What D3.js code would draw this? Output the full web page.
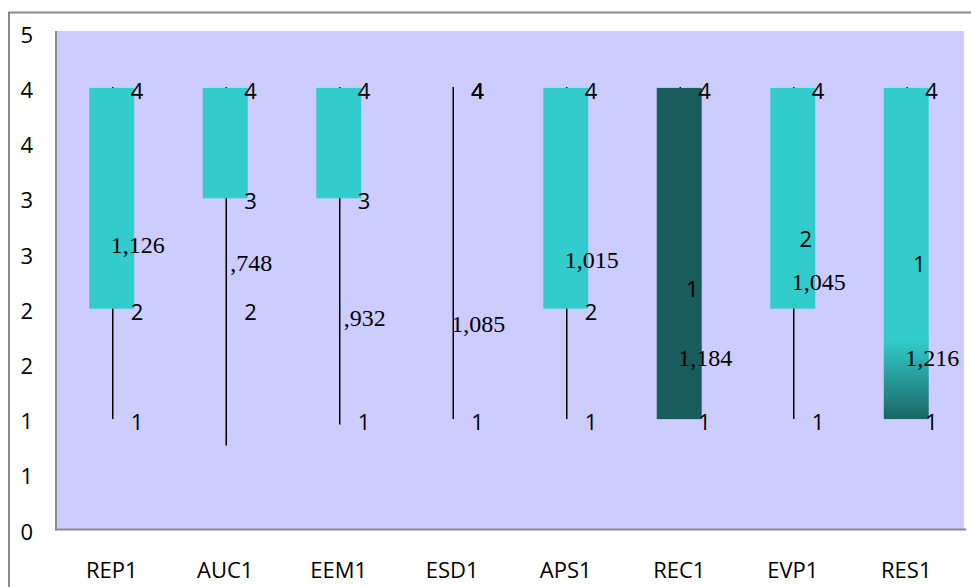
<!DOCTYPE html>
<html>
<head>
<meta charset="utf-8">
<script src="https://cdn.jsdelivr.net/npm/d3@7"></script>
<style>
  html, body { margin: 0; padding: 0; background: #fff; }
  svg { display: block; }
  .sans { font-family: "Open Sans", "Noto Sans", sans-serif; font-size: 22px; fill: #000; }
  .serif { font-family: "Liberation Serif", "DejaVu Serif", serif; font-size: 24px; fill: #000; }
</style>
</head>
<body>
<svg id="chart" width="971" height="587"></svg>
<script>
// Candlestick-style summary per item: high/low whisker, open/close box
const categories = ["REP1", "AUC1", "EEM1", "ESD1", "APS1", "REC1", "EVP1", "RES1"];
const highVals  = [4, 4, 4, 4, 4, 4, 4, 4];
const lowVals   = [1.0, 0.76, 0.95, 1.0, 1.0, 1.0, 1.0, 1.0];
const openVals  = [2, 3, 3, 4, 2, 4, 2, 1];
const closeVals = [4, 4, 4, 4, 4, 1, 4, 4];

// value labels drawn beside each candle: [value, text]
const sideLabels = [
  [[4, "4"], [2, "2"], [1, "1"]],
  [[4, "4"], [3, "3"], [2, "2"]],
  [[4, "4"], [3, "3"], [1, "1"]],
  [[4, "4"], [4, "4"], [4, "4"], [1, "1"]],
  [[4, "4"], [2, "2"], [1, "1"]],
  [[4, "4"], [1, "1"]],
  [[4, "4"], [1, "1"]],
  [[4, "4"], [1, "1"]]
];
// labels inside the candle body
const midPos  = [null, null, null, null, null, 2.21, 2.66, 2.43];
const midText = [null, null, null, null, null, "1", "2", "1"];
// standard deviation labels and their vertical position
const sdPos  = [2.60, 2.44, 1.94, 1.89, 2.47, 1.58, 2.27, 1.58];
const sdText = ["1,126", ",748", ",932", "1,085", "1,015", "1,184", "1,045", "1,216"];

// y axis ticks every half unit, shown as whole numbers
const yTicks = d3.range(0, 4.51, 0.5);

const svg = d3.select("#chart");
const plot = { left: 56, right: 964, top: 31, bottom: 529.5 };

const x = d3.scaleBand().domain(categories).range([plot.left, plot.right]);
const y = d3.scaleLinear().domain([0, 4.5]).range([plot.bottom, 32.7]);
const cx = c => x(c) + x.bandwidth() / 2;

// outer chart frame (top and left edges visible)
svg.append("path")
  .attr("d", `M9,587 V12.5 H971`)
  .attr("fill", "none").attr("stroke", "#8a8a8a").attr("stroke-width", 2);

// plot background
svg.append("rect")
  .attr("x", plot.left).attr("y", plot.top)
  .attr("width", plot.right - plot.left).attr("height", plot.bottom - plot.top)
  .attr("fill", "#ccccff");

// gradient for the last body
const defs = svg.append("defs");
const grad = defs.append("linearGradient").attr("id", "resFade")
  .attr("x1", 0).attr("y1", 0).attr("x2", 0).attr("y2", 1);
grad.append("stop").attr("offset", "0%").attr("stop-color", "#33cccc");
grad.append("stop").attr("offset", "76%").attr("stop-color", "#33cccc");
grad.append("stop").attr("offset", "100%").attr("stop-color", "#1b6666");

const rows = categories.map((c, i) => ({
  c, high: highVals[i], low: lowVals[i], open: openVals[i], close: closeVals[i],
  side: sideLabels[i], midPos: midPos[i], midText: midText[i],
  sdPos: sdPos[i], sdText: sdText[i]
}));

// high-low lines
svg.append("g").selectAll("line").data(rows).join("line")
  .attr("x1", d => cx(d.c)).attr("x2", d => cx(d.c))
  .attr("y1", d => y(d.high) - 1).attr("y2", d => y(d.low))
  .attr("stroke", "#000").attr("stroke-width", 1.5);

// open-close bodies
const boxW = x.bandwidth() * 0.396;
svg.append("g").selectAll("rect").data(rows).join("rect")
  .attr("x", d => cx(d.c) - 1 - boxW / 2)
  .attr("width", boxW)
  .attr("y", d => y(Math.max(d.open, d.close)))
  .attr("height", d => Math.abs(y(d.open) - y(d.close)))
  .attr("fill", d => d.c === "RES1" ? "url(#resFade)" : (d.close >= d.open ? "#33cccc" : "#185c5c"));

// axis lines
svg.append("line").attr("x1", plot.left).attr("x2", plot.left)
  .attr("y1", plot.top).attr("y2", plot.bottom + 1)
  .attr("stroke", "#8a8a8a").attr("stroke-width", 2);
svg.append("line").attr("x1", plot.left - 1).attr("x2", plot.right + 2)
  .attr("y1", plot.bottom).attr("y2", plot.bottom)
  .attr("stroke", "#8a8a8a").attr("stroke-width", 2);

// y axis labels
const yAxis = svg.append("g").attr("transform", `translate(${plot.left},0)`)
  .call(d3.axisLeft(y).tickValues(yTicks).tickFormat(d => Math.round(d)).tickSize(0).tickPadding(23));
yAxis.select(".domain").remove();
yAxis.selectAll("text").attr("class", "sans").attr("font-family", null).attr("font-size", null)
  .attr("transform", "translate(0,2.5)");

// category labels
svg.append("g").selectAll("text").data(categories).join("text")
  .attr("class", "sans").attr("text-anchor", "middle")
  .attr("x", c => cx(c) - 1).attr("y", 578)
  .text(c => c);

// side value labels
const sideG = svg.append("g");
rows.forEach(d => {
  sideG.selectAll(null).data(d.side).join("text")
    .attr("class", "sans")
    .attr("x", cx(d.c) + 18).attr("y", v => y(v[0]) + 11)
    .text(v => v[1]);
});

// labels inside bodies
svg.append("g").selectAll("text").data(rows.filter(d => d.midText !== null)).join("text")
  .attr("class", "sans").attr("text-anchor", "middle")
  .attr("x", d => cx(d.c) + 12).attr("y", d => y(d.midPos) + 11)
  .text(d => d.midText);

// standard deviation labels
svg.append("g").selectAll("text").data(rows).join("text")
  .attr("class", "serif").attr("text-anchor", "middle")
  .attr("x", d => cx(d.c) + 25).attr("y", d => y(d.sdPos) + 11)
  .text(d => d.sdText);
</script>
</body>
</html>
